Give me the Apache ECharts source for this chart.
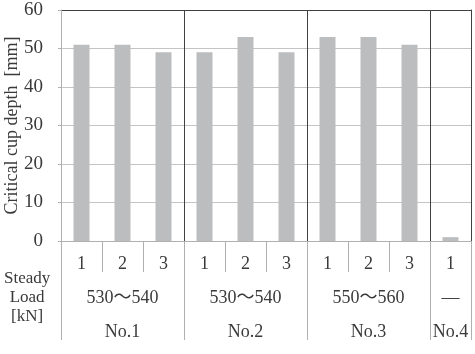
<!DOCTYPE html>
<html>
<head>
<meta charset="utf-8">
<script src="https://cdn.jsdelivr.net/npm/echarts@6/dist/echarts.min.js"></script>
<style>html,body{margin:0;padding:0;background:#fff}#c{width:475px;height:354px}</style>
</head>
<body>
<div id="c"></div>
<script>
const trials = ['1','2','3','1','2','3','1','2','3','1'];
const depths = [51, 51, 49, 49, 53, 49, 53, 53, 51, 1];
const groupNames = ['No.1','No.2','No.3','No.4'];
const loads = ['530～540','530～540','550～560','—'];
const groupSizes = [3, 3, 3, 1];
const yTicks = [0, 10, 20, 30, 40, 50, 60];

// derived
const groupOf = [];
const groupStart = new Set();
const groupCenter = {};
let k = 0;
groupSizes.forEach((n, g) => {
  groupStart.add(k);
  groupCenter[k + Math.floor((n - 1) / 2)] = g;
  for (let i = 0; i < n; i++) groupOf.push(g);
  k += n;
});

const serif = '"Liberation Serif", "Times New Roman", "Noto Sans CJK JP", serif';
const txt = '#3a3a3a';
const chart = echarts.init(document.getElementById('c'), null, {renderer: 'canvas'});
chart.setOption({
  animation: false,
  backgroundColor: '#fff',
  grid: {left: 61, right: 4, top: 10, bottom: 113, containLabel: false, outerBoundsMode: 'none'},
  xAxis: [{
    type: 'category',
    data: trials,
    boundaryGap: true,
    axisLine: {show: true, lineStyle: {color: '#b0b0b0', width: 1}},
    axisTick: {show: true, interval: 0, length: 31, lineStyle: {color: '#b0b0b0'}},
    axisLabel: {interval: 0, margin: 14, fontFamily: serif, fontSize: 18, color: txt},
    splitLine: {show: true, interval: (i) => i > 0 && groupStart.has(i), lineStyle: {color: '#404040', width: 1}}
  }, {
    type: 'category',
    data: trials.map((t, i) => groupNames[groupOf[i]]),
    position: 'bottom',
    boundaryGap: true,
    axisLine: {show: false},
    axisTick: {show: true, interval: (i) => groupStart.has(i), length: 99, lineStyle: {color: '#b0b0b0'}},
    axisLabel: {
      interval: (i) => groupCenter[i] !== undefined,
      margin: 40,
      fontFamily: serif, fontSize: 18, color: txt, lineHeight: 34,
      formatter: (v, i) => loads[groupNames.indexOf(v)] + '\n' + v
    },
    splitLine: {show: false}
  }],
  yAxis: [{
    type: 'value',
    min: yTicks[0], max: yTicks[yTicks.length - 1], interval: 10,
    name: 'Critical cup depth  [mm]',
    nameLocation: 'middle',
    nameGap: 40,
    nameMoveOverlap: false,
    nameTextStyle: {fontFamily: serif, fontSize: 18, color: txt},
    axisLine: {show: true, lineStyle: {color: '#b0b0b0'}},
    axisTick: {show: true, length: 3, lineStyle: {color: '#b0b0b0'}},
    axisLabel: {margin: 18, fontFamily: serif, fontSize: 19, color: txt},
    splitLine: {show: true, lineStyle: {color: ['#c4c4c4','#c4c4c4','#c4c4c4','#c4c4c4','#c4c4c4','#c4c4c4','#404040'], width: 1}}
  }, {
    type: 'value',
    position: 'right',
    min: yTicks[0], max: yTicks[yTicks.length - 1], interval: 10,
    axisLine: {show: true, lineStyle: {color: '#404040'}},
    axisTick: {show: false},
    axisLabel: {show: false},
    splitLine: {show: false}
  }],
  graphic: [{
    type: 'group', left: 4, top: 270,
    children: [
      {type: 'text', x: 24, y: 0, style: {text: 'Steady', font: '17px ' + serif, fill: txt, textAlign: 'center'}},
      {type: 'text', x: 24, y: 19, style: {text: 'Load', font: '17px ' + serif, fill: txt, textAlign: 'center'}},
      {type: 'text', x: 24, y: 38, style: {text: '[kN]', font: '17px ' + serif, fill: txt, textAlign: 'center'}}
    ]
  }],
  series: [{
    type: 'bar',
    data: depths,
    barWidth: '39%',
    itemStyle: {color: '#bcbdbf'}
  }]
});
</script>
</body>
</html>
